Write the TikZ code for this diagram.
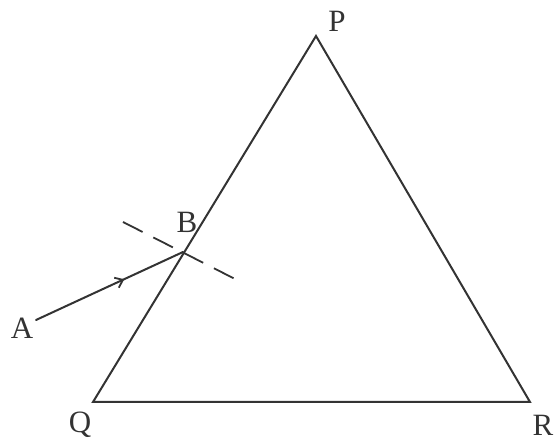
\documentclass[tikz,border=0pt]{standalone}
\usepackage{fontspec}
\setmainfont{Liberation Serif}
\usetikzlibrary{decorations.markings,arrows.meta}
\begin{document}
\begin{tikzpicture}[x=1pt,y=-1pt,
  edge/.style={line width=2pt,draw=black!80,line cap=round,line join=miter},
  lbl/.style={font=\fontsize{31}{34}\selectfont,text=black!80,inner sep=0pt},
  normalline/.style={line width=1.8pt,draw=black!80,dash pattern=on 22pt off 12pt},
  midarrow/.style={postaction={decorate},decoration={markings,mark=at position 0.6 with {\arrow{Straight Barb[length=7pt,width=11pt,line width=1.8pt]}}}}]
\useasboundingbox (0,0) rectangle (558,443);
\coordinate (p) at (316,36);
\coordinate (q) at (93,402);
\coordinate (r) at (530,402);
\coordinate (b) at (183,252);
\coordinate (a) at (36,320);
\coordinate (n1) at (123,222);
\coordinate (n2) at (237,280);
\draw[edge] (p) -- (q) -- (r) -- cycle;
\draw[normalline] (n1) -- (n2);
\draw[edge,midarrow] (a) -- (b);
\node[lbl] (lp) at (337,21) {P};
\node[lbl] (lb) at (187,222) {B};
\node[lbl] (la) at (22,328) {A};
\node[lbl] (lq) at (80,425) {Q};
\node[lbl] (lr) at (543,425) {R};
\end{tikzpicture}
\end{document}
